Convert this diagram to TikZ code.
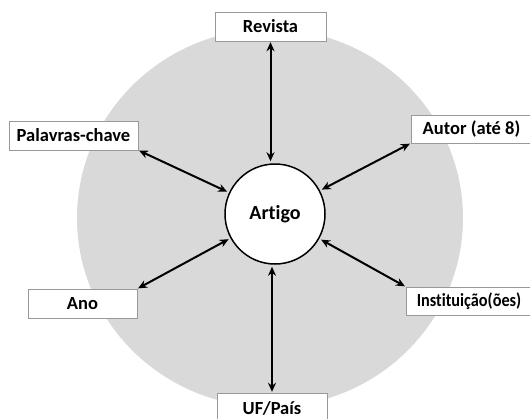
\documentclass[tikz,border=0pt]{standalone}
\usepackage{fontspec}
\setmainfont{Carlito}[Ligatures=NoCommon]
\usetikzlibrary{arrows.meta, positioning}

\begin{document}
\begin{tikzpicture}[x=1pt, y=-1pt,
  campo/.style={rectangle, draw=black!40, fill=white, inner sep=0pt,
                minimum height=29pt, font=\fontsize{18.5}{20}\selectfont\bfseries},
  artigo/.style={circle, draw, line width=1.5pt, fill=white,
                 minimum size=100pt, inner sep=0pt,
                 font=\fontsize{20}{22}\selectfont\bfseries},
  liga/.style={{Stealth[length=9pt,width=8pt]}-{Stealth[length=9pt,width=8pt]},
               line width=2pt, shorten <=1pt, shorten >=2pt}
]
\useasboundingbox (0,0) rectangle (530,418);
\fill[black!15] (270,218) ellipse [x radius=193pt, y radius=189pt];

\node[artigo] (art) at (275,214) {Artigo};
\node[campo, minimum width=111pt] (rev) at (270.5,26.5) {Revista};
\node[campo, minimum width=129pt] (pal) at (73.5,135.5) {Palavras-chave};
\node[campo, minimum width=121pt, minimum height=28pt] (aut) at (471.5,129) {Autor (até 8)};
\node[campo, minimum width=109pt] (ano) at (82.5,303.5) {Ano};
\node[campo, minimum width=126pt, minimum height=28pt] (ins) at (469,301)
  {\scalebox{0.88}[1]{Instituição(ões)}};
\node[campo, minimum width=110pt, minimum height=30pt] (uf) at (272,408) {UF/País};

\draw[liga] (rev.south) -- (rev.south |- art.north);
\draw[liga] (pal.south east) -- (art);
\draw[liga] (aut.south west) -- (art);
\draw[liga] (ano.north east) -- (art);
\draw[liga] (ins.north west) -- (art);
\draw[liga] (uf.north) -- (uf.north |- art.south);
\end{tikzpicture}
\end{document}
